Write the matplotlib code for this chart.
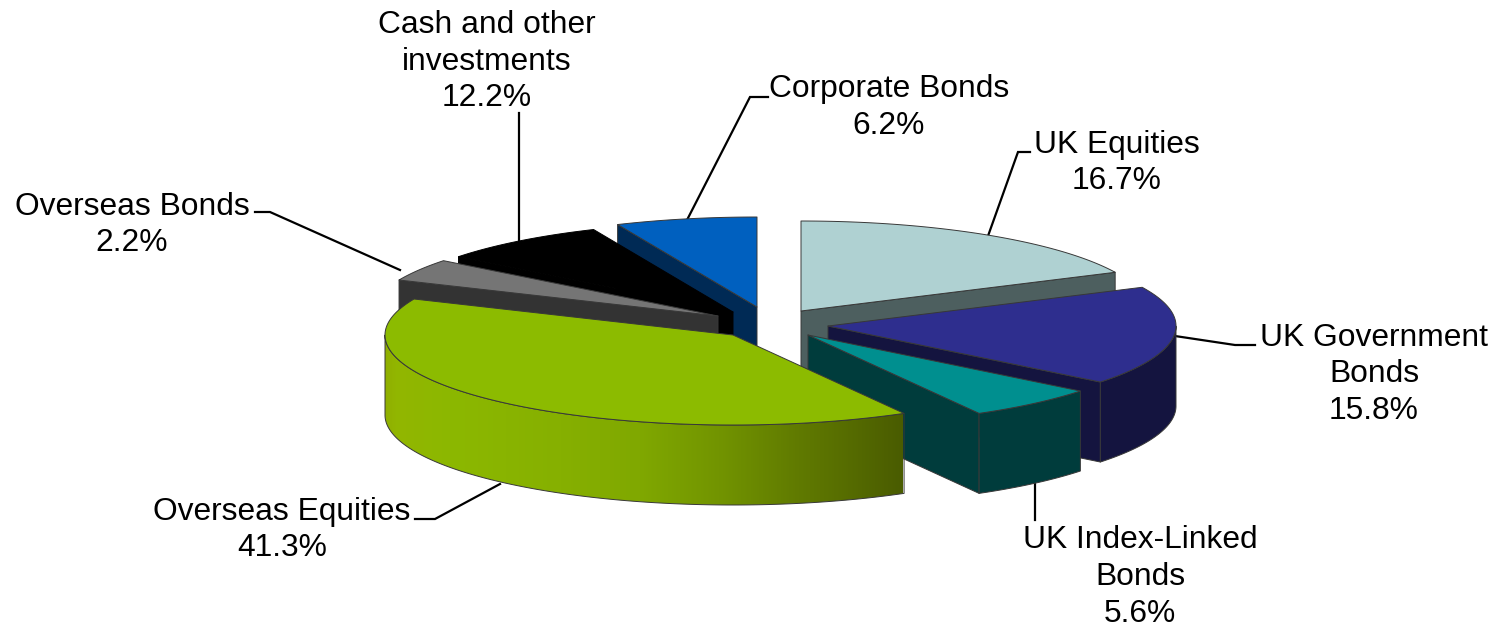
import numpy as np
import matplotlib
matplotlib.use("Agg")
import matplotlib.pyplot as plt
from matplotlib.patches import Polygon
from matplotlib.colors import LinearSegmentedColormap

categories = ["UK Equities", "UK Government\nBonds", "UK Index-Linked\nBonds", "Overseas Equities",
              "Overseas Bonds", "Cash and other\ninvestments", "Corporate Bonds"]
values = [16.7, 15.8, 5.6, 41.3, 2.2, 12.2, 6.2]

top_colors = ["#AFD1D2", "#2E2E8E", "#008F8F", "#8CBB00", "#757575", "#000000", "#0060BF"]
wall_colors = ["#4D5F5F", "#14143F", "#003C3C", "#7FA000", "#333333", "#000000", "#002A55"]
edge_colors = ["#383838", "#383838", "#383838", "#383838", "#383838", "#000000", "#383838"]

# screen geometry, in pixels
apex = [(801, 311), (828, 326), (808, 335), (733, 335), (718, 316), (733, 312), (757, 307)]
RX, RY, DEPTH = 348, 90, 80
draw_order = [0, 6, 5, 4, 1, 2, 3]
# the pie's view distorts angles: value angle -> drawn angle
view_in = [0, 60.1, 117, 137.2, 285.8, 293.8, 337.7, 360]
view_out = [0, 64.5, 128.5, 150.6, 293.5, 308, 336.4, 360]

# light falling across the big slice's wall, left to right
wall_x = [385, 395, 450, 560, 640, 720, 800, 850, 903]
wall_c = ["#90B000", "#92B600", "#8CB800", "#86B000", "#80A800", "#729400", "#607A00", "#566C00", "#4A5C00"]

label_pos = [(1117, 163), (1374, 374.5), (1140, 577), (282, 530), (132, 225), (487, 61.5), (889, 107.5)]
leaders = [[(988, 236), (1018, 152), (1030, 152)],
           [(1175, 336), (1235, 345), (1255, 345)],
           [(1035, 484), (1035, 520)],
           [(500, 484), (435, 519), (415, 519)],
           [(400, 270), (270, 212), (255, 212)],
           [(519, 241), (519, 113)],
           [(687, 220), (750, 97), (768, 97)]]

fig = plt.figure(figsize=(14.95, 6.29), dpi=100)
ax = fig.add_axes([0, 0, 1, 1])
ax.set_xlim(0, 1495)
ax.set_ylim(629, 0)
ax.axis("off")

cum = np.concatenate([[0], np.cumsum(values)]) / np.sum(values) * 360
cmap = LinearSegmentedColormap.from_list(
    "wall", [((x - wall_x[0]) / (wall_x[-1] - wall_x[0]), col) for x, col in zip(wall_x, wall_c)])


def point(c, deg, drop=0):
    t = np.radians(deg)
    return c[0] + RX * np.sin(t), c[1] - RY * np.cos(t) + drop


for i in draw_order:
    EDGE = dict(edgecolor=edge_colors[i], linewidth=0.7, joinstyle="round")
    a0, a1 = np.interp([cum[i], cum[i + 1]], view_in, view_out)
    c = apex[i]
    th = np.linspace(a0, a1, max(int(a1 - a0) * 2, 4))
    arc = np.array([point(c, d) for d in th])
    # radial faces turned towards the viewer
    for d, visible in ((a0, a0 > 180), (a1, a1 < 180)):
        if visible:
            p = point(c, d)
            ax.add_patch(Polygon([c, p, (p[0], p[1] + DEPTH), (c[0], c[1] + DEPTH)],
                                 facecolor=wall_colors[i], zorder=1, **EDGE))
    # outer wall: only the part that faces the viewer
    front = th[np.cos(np.radians(th)) <= 0]
    if len(front) > 1:
        fa = np.array([point(c, d) for d in front])
        outline = np.vstack([fa, fa[::-1] + (0, DEPTH)])
        if i == 3:
            grad = np.linspace(0, 1, 600)[None, :]
            im = ax.imshow(grad, cmap=cmap, aspect="auto",
                           extent=(wall_x[0], wall_x[-1], 629, 0), zorder=1)
            im.set_clip_path(Polygon(outline, transform=ax.transData))
            ax.set_xlim(0, 1495)
            ax.set_ylim(629, 0)
            ax.add_patch(Polygon(outline, fill=False, zorder=1, **EDGE))
        else:
            ax.add_patch(Polygon(outline, facecolor=wall_colors[i], zorder=1, **EDGE))
    # top
    ax.add_patch(Polygon(np.vstack([[c], arc]), facecolor=top_colors[i], zorder=1, **EDGE))

for pts in leaders:
    xs, ys = zip(*pts)
    ax.plot(xs, ys, color="black", lw=1.6, solid_joinstyle="miter", zorder=0.5)

for name, v, (x, y) in zip(categories, values, label_pos):
    ax.text(x, y, f"{name}\n{v:.1f}%", ha="center", va="center", fontsize=22.9,
            family="Liberation Sans", linespacing=1.295, color="black")

fig.savefig("out.png", dpi=100)
